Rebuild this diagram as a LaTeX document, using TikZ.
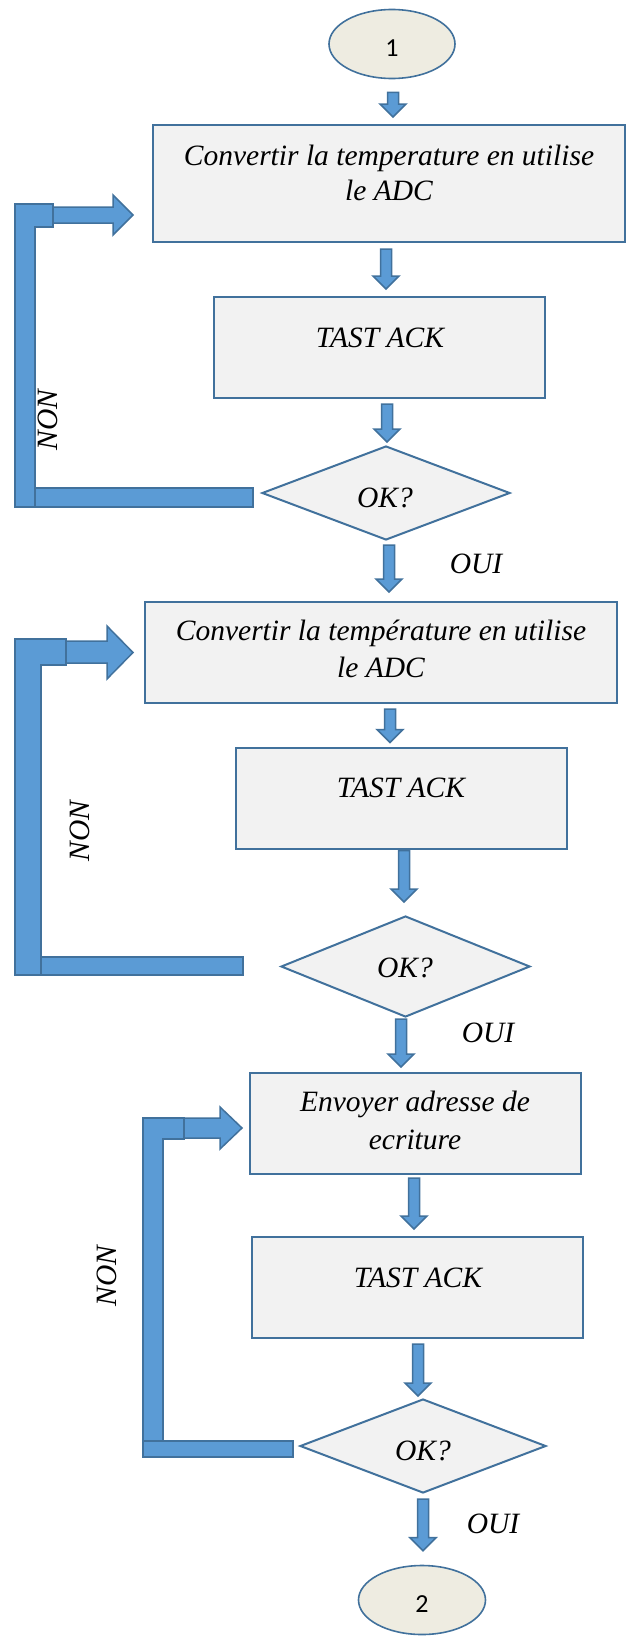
\documentclass[tikz,border=0pt]{standalone}
\usepackage{fontspec}
\setmainfont{Liberation Serif}
\newfontfamily\numfont{Carlito}
\usetikzlibrary{shapes.geometric,calc}

\definecolor{arrowfill}{HTML}{5B9BD5}
\definecolor{arrowline}{HTML}{41719C}
\definecolor{boxfill}{HTML}{F2F2F2}
\definecolor{boxline}{HTML}{41719C}
\definecolor{termfill}{HTML}{EEECE1}

% block arrow dimensions: shaft half width, head half width, head length
\def\shw{5.5pt}
\def\hdw{13pt}
\def\hdl{13pt}

\tikzset{
  procbox/.style={rectangle, draw=boxline, fill=boxfill, line width=2pt,
    minimum width=331pt, minimum height=101pt, inner sep=0pt},
  widebox/.style={procbox, minimum width=472pt},
  decision/.style={diamond, draw=boxline, fill=boxfill, line width=2pt,
    inner sep=0pt, minimum width=248pt, minimum height=94pt},
  terminal/.style={ellipse, draw=boxline, fill=termfill, line width=1.6pt,
    minimum width=126pt, minimum height=69pt, inner sep=0pt,
    font=\numfont\fontsize{26}{26}\selectfont, text height=24pt, text depth=0pt},
  lbl/.style={font=\itshape\fontsize{29.5}{36}\selectfont, inner sep=0pt, anchor=base},
  blockarrow/.style={fill=arrowfill, draw=arrowline, line width=1.5pt, line join=miter},
}

% downward block arrow from the point #1 to the height of the point #2
\newcommand\blockdown[2]{%
  \filldraw[blockarrow] let \p1=#1, \p2=#2 in
    (\x1-\shw,\y1) -- (\x1+\shw,\y1) -- (\x1+\shw,\y2+\hdl) -- (\x1+\hdw,\y2+\hdl)
    -- (\x1,\y2) -- (\x1-\hdw,\y2+\hdl) -- (\x1-\shw,\y2+\hdl) -- cycle;}

\begin{document}
\begin{tikzpicture}[x=1pt, y=-1pt]
\useasboundingbox (0,0) rectangle (626,1638);

% ---------- shapes ----------
\node[terminal] (e1) at (392,44) {1};
\node[widebox, minimum height=117pt] (b1) at (389,183.5) {};
\node[procbox] (b2) at (379.5,347.5) {};
\node[decision] (d1) at (386,493) {};

\node[widebox] (b3) at (381,652.5) {};
\node[procbox] (b4) at (401,798) {};
\node[decision, minimum width=249pt, minimum height=101pt] (d2) at (405.5,966.5) {};

\node[procbox] (b5) at (415.5,1123.5) {};
\node[procbox] (b6) at (417.5,1287.5) {};
\node[decision, minimum width=246pt] (d3) at (423,1446) {};
\node[terminal, minimum width=127pt] (e2) at (422,1600) {2};

% ---------- texts ----------
\node[lbl] (b1a) at (389,165) {Convertir la temperature en utilise};
\node[lbl] (b1b) at (389,200) {le ADC};
\node[lbl] (b2t) at (380,347) {TAST ACK};
\node[lbl] (d1t) at (385,507) {OK?};

\node[lbl] (b3a) at (381,640) {Convertir la température en utilise};
\node[lbl] (b3b) at (381,677) {le ADC};
\node[lbl] (b4t) at (401,797) {TAST ACK};
\node[lbl] (d2t) at (405,977) {OK?};

\node[lbl] (b5a) at (415,1111) {Envoyer adresse de};
\node[lbl] (b5b) at (415,1149) {ecriture};
\node[lbl] (b6t) at (418,1287) {TAST ACK};
\node[lbl] (d3t) at (423,1460) {OK?};

\node[lbl] (y1) at (476,573) {OUI};
\node[lbl] (y2) at (488,1042) {OUI};
\node[lbl] (y3) at (493,1533) {OUI};

\node[lbl, rotate=90, anchor=center] (n1) at (48,420) {NON};
\node[lbl, rotate=90, anchor=center] (n2) at (80,831) {NON};
\node[lbl, rotate=90, anchor=center] (n3) at (107,1276) {NON};

% ---------- main flow ----------
\blockdown{($(e1.south)+(1,13)$)}{($(b1.north)+(0,-7)$)}
\blockdown{($(b1.south)+(-3,6)$)}{($(b2.north)+(0,-7)$)}
\blockdown{($(b2.south)+(7.5,5)$)}{($(d1.north)+(0,-3)$)}
\blockdown{($(d1.south)+(3,4)$)}{($(b3.north)+(0,-9)$)}
\blockdown{($(b3.south)+(9,5)$)}{($(b4.north)+(0,-4)$)}
\blockdown{($(b4.south)+(3,1)$)}{($(d2.north)+(0,-13)$)}
\blockdown{($(d2.south)+(-4.5,1)$)}{($(b5.north)+(0,-5)$)}
\blockdown{($(b5.south)+(-1.5,3)$)}{($(b6.north)+(0,-7)$)}
\blockdown{($(b6.south)+(0.5,5)$)}{($(d3.north)+(0,-2)$)}
\blockdown{($(d3.south)+(0,5)$)}{($(e2.north)+(0,-14)$)}

% ---------- NON loops back to the conversion / address steps ----------
% loop 1
\filldraw[blockarrow] (15,507) -- (15,204) -- (53,204) -- (53,227) -- (35,227) -- (35,507) -- cycle;
\filldraw[blockarrow] (53,207) -- (113,207) -- (113,195) -- (133,215) -- (113,235) -- (113,223) -- (53,223) -- cycle;
\filldraw[blockarrow] (35,488) rectangle (253,507);

% loop 2
\filldraw[blockarrow] (15,975) -- (15,639) -- (66,639) -- (66,665) -- (41,665) -- (41,975) -- cycle;
\filldraw[blockarrow] (66,641) -- (107,641) -- (107,626) -- (133,652.5) -- (107,679) -- (107,663) -- (66,663) -- cycle;
\filldraw[blockarrow] (41,957) rectangle (243,975);

% loop 3
\filldraw[blockarrow] (143,1441) -- (143,1118) -- (184,1118) -- (184,1139) -- (163,1139) -- (163,1441) -- cycle;
\filldraw[blockarrow] (184,1118) -- (220,1118) -- (220,1107) -- (242,1128) -- (220,1149) -- (220,1138) -- (184,1138) -- cycle;
\filldraw[blockarrow] (143,1441) rectangle (293,1457);

\end{tikzpicture}
\end{document}
